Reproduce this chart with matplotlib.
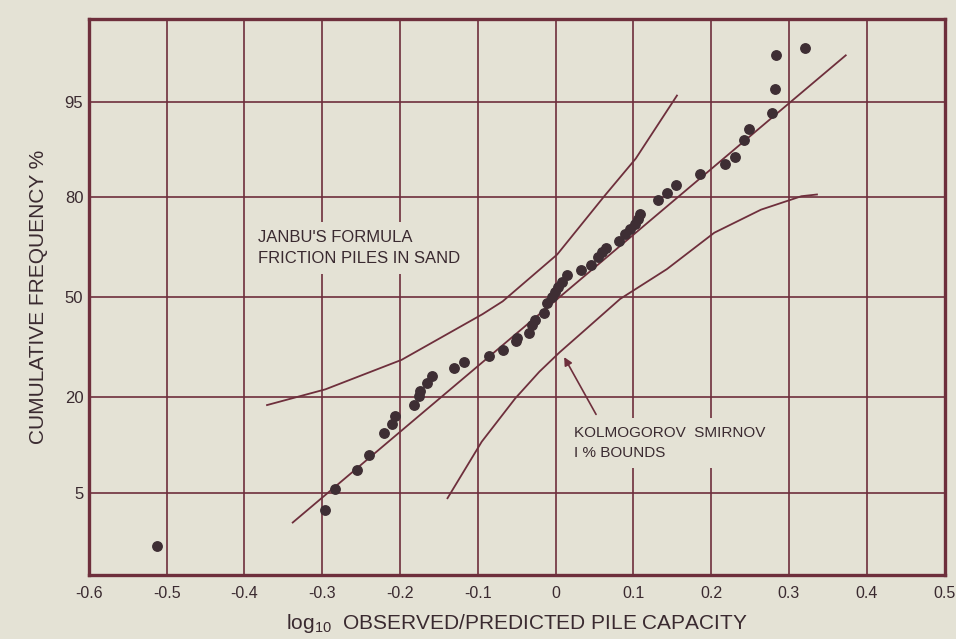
from statistics import NormalDist
import matplotlib
matplotlib.use("Agg")
import matplotlib.pyplot as plt
import numpy as np

# observed data points: log10(observed/predicted), cumulative frequency %
obs_x = [-0.513, -0.297, -0.284, -0.255, -0.240, -0.221, -0.210, -0.206, -0.182, -0.176,
         -0.174, -0.165, -0.159, -0.131, -0.118, -0.085, -0.068, -0.051, -0.049, -0.034,
         -0.030, -0.027, -0.015, -0.011, -0.005, -0.001, 0.003, 0.008, 0.015, 0.032,
         0.046, 0.055, 0.059, 0.065, 0.081, 0.089, 0.096, 0.102, 0.106, 0.109,
         0.131, 0.143, 0.155, 0.186, 0.218, 0.230, 0.242, 0.248, 0.278, 0.282,
         0.283, 0.320]
obs_p = [1.8, 3.7, 5.3, 7.3, 9.2, 12.6, 14.3, 15.8, 18.2, 20.3,
         21.5, 23.6, 25.4, 27.6, 29.2, 30.9, 32.9, 35.5, 36.7, 38.3,
         40.8, 42.4, 44.6, 47.9, 50.2, 51.8, 53.5, 55.2, 57.4, 59.0,
         60.6, 63.3, 64.8, 66.1, 68.1, 70.3, 71.8, 73.2, 74.5, 75.9,
         79.2, 80.9, 82.7, 85.0, 86.8, 88.0, 90.7, 92.1, 93.9, 96.0,
         97.9, 98.2]

# fitted normal line (straight on probability paper)
fit_x = [-0.338, 0.373]
fit_p = [2.9, 97.9]

# Kolmogorov-Smirnov 1% bounds
upper_x = [-0.371, -0.296, -0.198, -0.094, -0.068, 0.002, 0.063, 0.103, 0.156]
upper_p = [18.2, 21.9, 29.9, 44.3, 48.6, 64.0, 80.3, 87.8, 95.5]
lower_x = [-0.139, -0.095, -0.052, -0.021, 0.005, 0.035, 0.083, 0.143, 0.204, 0.264, 0.316, 0.336]
lower_p = [4.54, 11.2, 19.7, 26.5, 32.1, 38.5, 49.4, 59.3, 70.6, 76.9, 80.2, 80.6]

x_ticks = [-0.6, -0.5, -0.4, -0.3, -0.2, -0.1, 0, 0.1, 0.2, 0.3, 0.4, 0.5]
x_ticklabels = ["-0.6", "-0.5", "-0.4", "-0.3", "-0.2", "-0.1", "0", "0.1", "0.2", "0.3", "0.4", "0.5"]
y_ticks = [5, 20, 50, 80, 95]

_nd = NormalDist()


def probit(p):
    p = np.clip(np.asarray(p, dtype=float) / 100.0, 1e-9, 1 - 1e-9)
    return np.vectorize(_nd.inv_cdf, otypes=[float])(p)


def inv_probit(z):
    return np.vectorize(_nd.cdf, otypes=[float])(np.asarray(z, dtype=float)) * 100.0


paper = "#e4e2d5"
ink = "#6e2f3c"
dots = "#3e2e34"
text_c = "#3a2a30"

plt.rcParams["font.family"] = ["Liberation Sans", "DejaVu Sans"]
plt.rcParams["mathtext.default"] = "regular"

fig = plt.figure(figsize=(9.56, 6.39), dpi=100, facecolor=paper)
ax = fig.add_axes([0.093, 0.100, 0.895, 0.870])
ax.set_facecolor(paper)
ax.set_yscale("function", functions=(probit, inv_probit))
ax.set_xlim(-0.6, 0.5)
ax.set_ylim(0.97, 99.03)

ax.set_xticks(x_ticks)
ax.set_xticklabels(x_ticklabels)
ax.set_yticks(y_ticks)
ax.set_yticklabels([str(t) for t in y_ticks])
ax.minorticks_off()
ax.tick_params(axis="x", length=0, pad=8, labelsize=11.5, colors=text_c)
ax.tick_params(axis="y", length=0, pad=4, labelsize=12, colors=text_c)
ax.grid(True, color=ink, linewidth=1.2)
ax.set_axisbelow(True)
for s in ax.spines.values():
    s.set_color(ink)
    s.set_linewidth(2.4)

ax.plot(fit_x, fit_p, color=ink, linewidth=1.3, zorder=3)
ax.plot(upper_x, upper_p, color=ink, linewidth=1.3, zorder=3)
ax.plot(lower_x, lower_p, color=ink, linewidth=1.3, zorder=3)
ax.plot(obs_x, obs_p, "o", color=dots, markersize=6.8, zorder=4)

ax.text(-0.382, 66, "JANBU'S FORMULA\nFRICTION PILES IN SAND", fontsize=12,
        color=text_c, ha="left", va="center", linespacing=1.45, zorder=2,
        bbox=dict(facecolor=paper, edgecolor="none", pad=6))
ax.text(0.023, 11.0, "KOLMOGOROV  SMIRNOV\nI % BOUNDS", fontsize=11,
        color=text_c, ha="left", va="center", linespacing=1.5, zorder=2,
        bbox=dict(facecolor=paper, edgecolor="none", pad=6))
ax.annotate("", xy=(0.011, 30.7), xytext=(0.052, 16.2), zorder=3,
            arrowprops=dict(arrowstyle="-|>", color=ink, linewidth=1.2,
                            mutation_scale=12, shrinkA=0, shrinkB=0))

ax.set_xlabel(r"log$_{10}$  OBSERVED/PREDICTED PILE CAPACITY", fontsize=15,
              color=text_c, labelpad=8)
ax.set_ylabel("CUMULATIVE FREQUENCY %", fontsize=15, color=text_c, labelpad=12)

fig.savefig("out.png", dpi=100, facecolor=paper)
